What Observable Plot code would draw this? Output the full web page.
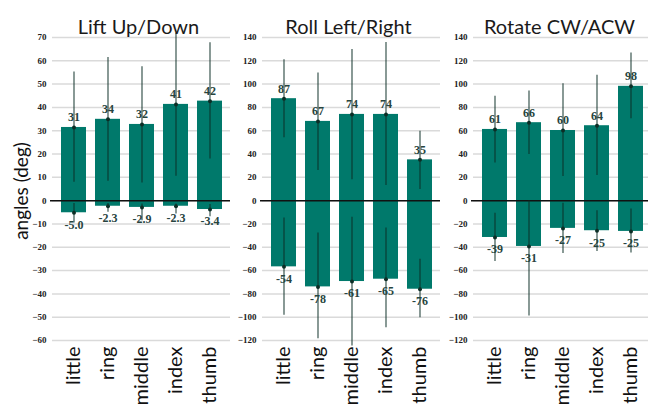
<!DOCTYPE html>
<html>
<head>
<meta charset="utf-8">
<script src="https://cdn.jsdelivr.net/npm/d3@7"></script>
<script src="https://cdn.jsdelivr.net/npm/@observablehq/plot@0.6"></script>
<style>
  body { margin: 0; background: #fff; }
  #wrap { position: relative; width: 648px; height: 407px; overflow: hidden; }
  #wrap svg { position: absolute; top: 0; overflow: visible; }
  #ylab { position: absolute; left: 20px; top: 191px; transform: translate(-50%, -50%) rotate(-90deg);
          font-family: Lato, sans-serif; font-size: 19px; color: #111; white-space: nowrap; }
</style>
</head>
<body>
<div id="wrap"><div id="ylab">angles (deg)</div></div>
<script>
const fingers = ["little", "ring", "middle", "index", "thumb"];

// Lift Up/Down
const liftTicks = [-60, -50, -40, -30, -20, -10, 0, 10, 20, 30, 40, 50, 60, 70];
const liftPos = [31.4, 34.9, 32.7, 41.3, 42.7];
const liftPosLo = [7.9, 8.3, 7.6, 10.5, 17.9];
const liftPosHi = [55.2, 61.4, 57.4, 71.8, 67.7];
const liftNeg = [-5.2, -2.4, -2.9, -2.4, -3.8];
const liftNegLo = [-9.6, -5.0, -8.6, -5.7, -6.9];
const liftNegHi = [-1.2, -1.2, -1.4, -1.4, -1.7];
const liftPosLab = ["31", "34", "32", "41", "42"];
const liftNegLab = ["-5.0", "-2.3", "-2.9", "-2.3", "-3.4"];

// Roll Left/Right
const rollTicks = [-120, -100, -80, -60, -40, -20, 0, 20, 40, 60, 80, 100, 120, 140];
const rollPos = [87.5, 68, 74, 74, 35];
const rollPosLo = [53.9, 25.8, 18, 12.9, 9.5];
const rollPosHi = [121, 109.5, 129.7, 135.7, 59.6];
const rollNeg = [-56.8, -74, -69.4, -67.4, -76];
const rollNegLo = [-98.4, -118.5, -124.8, -109, -100.4];
const rollNegHi = [-14.9, -27.8, -14.3, -23.5, -50.2];
const rollPosLab = ["87", "67", "74", "74", "35"];
const rollNegLab = ["-54", "-78", "-61", "-65", "-76"];

// Rotate CW/ACW
const rotTicks = rollTicks;
const rotPos = [61.1, 66.9, 60.2, 64.3, 98.1];
const rotPosLo = [32.4, 39.6, 20.7, 21.5, 70.3];
const rotPosHi = [89.5, 94, 100.4, 107.6, 126.8];
const rotNeg = [-31.6, -39.3, -23.8, -25.8, -26.4];
const rotNegLo = [-52.2, -99, -45.3, -43.6, -45];
const rotNegHi = [-10.9, 0, -2.3, -8.6, -7.2];
const rotPosLab = ["61", "66", "60", "64", "98"];
const rotNegLab = ["-39", "-31", "-27", "-25", "-25"];

const barColor = "#00796b";
const errColor = "#0c2e26";
const labColor = "#27443e";

function panel(title, ticks, pos, posLo, posHi, neg, negLo, negHi, posLab, negLab) {
  const rows = fingers.map((f, i) => ({
    f, pos: pos[i], posLo: posLo[i], posHi: posHi[i],
    neg: neg[i], negLo: negLo[i], negHi: negHi[i],
    posLab: posLab[i], negLab: negLab[i]
  }));
  const lab = {fontFamily: "Liberation Serif, serif", fontWeight: "bold", fontSize: 12, fill: labColor, letterSpacing: "1px"};
  return Plot.plot({
    width: 232, height: 407,
    marginLeft: 52, marginRight: 2, marginTop: 37, marginBottom: 67,
    x: {type: "band", domain: fingers, paddingInner: 0.275, paddingOuter: 0.217},
    y: {domain: [ticks[0], ticks[ticks.length - 1]]},
    marks: [
      Plot.ruleY(ticks, {stroke: "#dadada", strokeWidth: 1.5}),
      Plot.barY(rows, {x: "f", y: "pos", fill: barColor}),
      Plot.barY(rows, {x: "f", y: "neg", fill: barColor}),
      Plot.ruleY([0], {stroke: "#111", strokeWidth: 1.5, insetLeft: -2}),
      Plot.ruleX(rows, {x: "f", y1: "posLo", y2: "posHi", stroke: errColor, strokeOpacity: 0.75, strokeWidth: 1.3}),
      Plot.ruleX(rows, {x: "f", y1: "negLo", y2: "negHi", stroke: errColor, strokeOpacity: 0.75, strokeWidth: 1.3}),
      Plot.dot(rows, {x: "f", y: "pos", r: 2, fill: errColor, stroke: null}),
      Plot.dot(rows, {x: "f", y: "neg", r: 2, fill: errColor, stroke: null}),
      Plot.text(rows, {x: "f", y: "pos", text: "posLab", dy: -10, ...lab}),
      Plot.text(rows, {x: "f", y: "neg", text: "negLab", dy: 12, ...lab}),
      Plot.axisY({ticks, tickSize: 0, tickPadding: 6, label: null,
        fontFamily: "Liberation Serif, serif", fontWeight: "bold", fontSize: 9, fill: "#222"}),
      Plot.axisX({tickSize: 0, tickRotate: -90, tickPadding: 6, label: null,
        fontFamily: "Lato, sans-serif", fontSize: 20, fill: "#111"}),
      Plot.text([title], {frameAnchor: "top", dy: -18, dx: -3, text: d => d,
        fontFamily: "Lato, sans-serif", fontSize: 20, fill: "#1a1a1a"})
    ]
  });
}

const wrap = document.getElementById("wrap");
const p1 = panel("Lift Up/Down", liftTicks, liftPos, liftPosLo, liftPosHi, liftNeg, liftNegLo, liftNegHi, liftPosLab, liftNegLab);
const p2 = panel("Roll Left/Right", rollTicks, rollPos, rollPosLo, rollPosHi, rollNeg, rollNegLo, rollNegHi, rollPosLab, rollNegLab);
const p3 = panel("Rotate CW/ACW", rotTicks, rotPos, rotPosLo, rotPosHi, rotNeg, rotNegLo, rotNegHi, rotPosLab, rotNegLab);
p1.style.left = "0px";
p2.style.left = "210px";
p3.style.left = "421px";
wrap.appendChild(p1);
wrap.appendChild(p2);
wrap.appendChild(p3);
</script>
</body>
</html>
